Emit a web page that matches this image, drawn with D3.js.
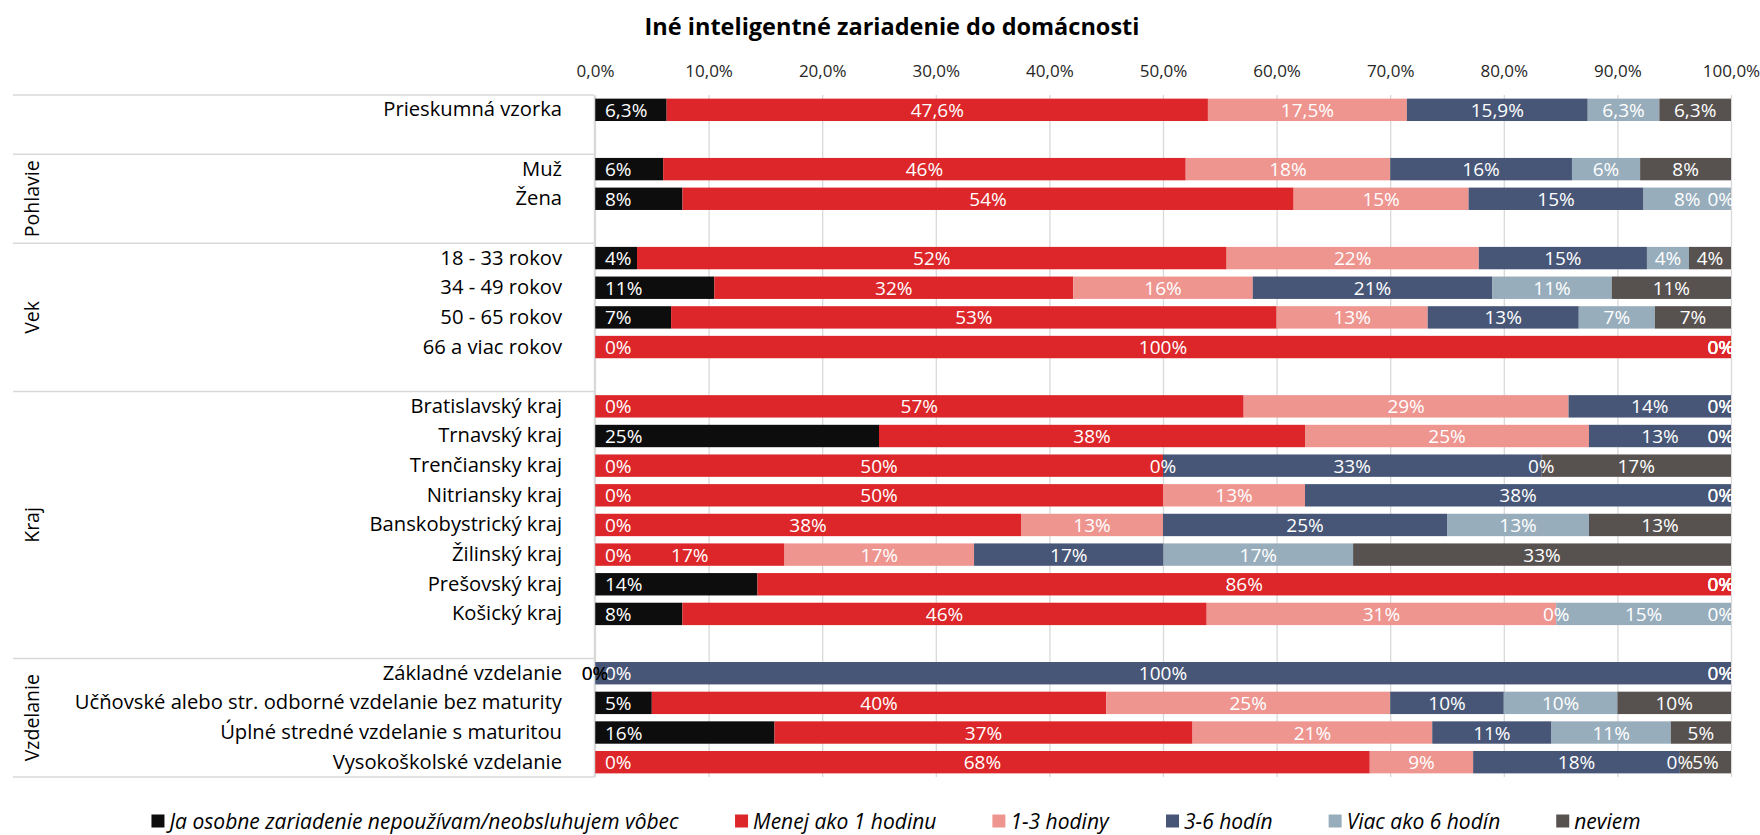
<!DOCTYPE html>
<html>
<head>
<meta charset="utf-8">
<script src="https://cdn.jsdelivr.net/npm/d3@7"></script>
<style>
  body { margin: 0; background: #fff; }
  svg text { font-family: "Open Sans", sans-serif; }
</style>
</head>
<body>
<svg id="chart" width="1760" height="835"></svg>
<script>
// data (percent of respondents)
const categories = ["Prieskumná vzorka", "", "Muž", "Žena", "",
  "18 - 33 rokov", "34 - 49 rokov", "50 - 65 rokov", "66 a viac rokov", "",
  "Bratislavský kraj", "Trnavský kraj", "Trenčiansky kraj", "Nitriansky kraj",
  "Banskobystrický kraj", "Žilinský kraj", "Prešovský kraj", "Košický kraj", "",
  "Základné vzdelanie", "Učňovské alebo str. odborné vzdelanie bez maturity",
  "Úplné stredné vzdelanie s maturitou", "Vysokoškolské vzdelanie"];
const groups = ["", "Pohlavie", "Vek", "Kraj", "Vzdelanie"];
const groupRows = [2, 3, 5, 9, 4];
const seriesNames = ["Ja osobne zariadenie nepoužívam/neobsluhujem vôbec", "Menej ako 1 hodinu",
  "1-3 hodiny", "3-6 hodín", "Viac ako 6 hodín", "neviem"];

const nepouzivam = [6.3, null, 6, 7.7, null, 3.7, 10.5, 6.7, 0, null, 0, 25, 0, 0, 0, 0, 14.3, 7.7, null, 0, 5, 15.8, 0];
const menej1 = [47.6, null, 46, 53.8, null, 51.9, 31.6, 53.3, 100, null, 57.1, 37.5, 50, 50, 37.5, 16.7, 85.7, 46.2, null, 0, 40, 36.8, 68.2];
const hodiny13 = [17.5, null, 18, 15.4, null, 22.2, 15.8, 13.3, 0, null, 28.6, 25, 0, 12.5, 12.5, 16.7, 0, 30.8, null, 0, 25, 21.1, 9.1];
const hodin36 = [15.9, null, 16, 15.4, null, 14.8, 21.1, 13.3, 0, null, 14.3, 12.5, 33.3, 37.5, 25, 16.7, 0, 0, null, 100, 10, 10.5, 18.2];
const viac6 = [6.3, null, 6, 7.7, null, 3.7, 10.5, 6.7, 0, null, 0, 0, 0, 0, 12.5, 16.7, 0, 15.4, null, 0, 10, 10.5, 0];
const neviem = [6.3, null, 8, 0, null, 3.7, 10.5, 6.7, 0, null, 0, 0, 16.7, 0, 12.5, 33.3, 0, 0, null, 0, 10, 5.3, 4.5];
const oneDecimalRows = ["Prieskumná vzorka"];
const tickValues = [0, 10, 20, 30, 40, 50, 60, 70, 80, 90, 100];

const colors = ["#0d0d0d", "#dc2629", "#ee9590", "#475677", "#97adbc", "#57524f"];

const width = 1760, height = 835;
const margin = {top: 95, left: 595, right: 29, bottom: 58};
const plotRight = width - margin.right;
const plotBottom = height - margin.bottom;

const sk = d3.formatLocale({decimal: ",", thousands: " ", grouping: [3], currency: ["", " €"]});

const allSeries = [nepouzivam, menej1, hodiny13, hodin36, viac6, neviem];
const rows = categories.map((c, i) => ({i: i, name: c, v: allSeries.map(s => s[i])}))
  .filter(d => d.v[0] !== null);

const stack = d3.stack()
  .keys(d3.range(seriesNames.length))
  .value((d, k) => d.v[k])
  .offset(d3.stackOffsetExpand);
const layers = stack(rows);

const x = d3.scaleLinear().domain([0, 1]).range([margin.left, plotRight]);
const y = d3.scaleBand()
  .domain(d3.range(categories.length))
  .range([margin.top, plotBottom])
  .paddingInner(0.245)
  .paddingOuter(0.1225);

const svg = d3.select('#chart');

// title
svg.append('text')
  .attr('x', 892).attr('y', 26)
  .attr('text-anchor', 'middle')
  .attr('dominant-baseline', 'central')
  .style('font-size', '23.5px').style('font-weight', 'bold')
  .text('Iné inteligentné zariadenie do domácnosti');

// gridlines
svg.append('g')
  .attr('transform', `translate(0, ${margin.top})`)
  .call(d3.axisBottom(x).tickValues(tickValues.map(t => t / 100)).tickSize(plotBottom - margin.top).tickFormat(''))
  .call(g => g.select('.domain').remove())
  .call(g => g.selectAll('line').attr('stroke', '#d9d9d9').attr('stroke-width', 1.3));

// percent axis on top
svg.append('g')
  .attr('transform', `translate(0, ${margin.top})`)
  .call(d3.axisTop(x).tickValues(tickValues.map(t => t / 100)).tickSize(0).tickPadding(18).tickFormat(sk.format('.1%')))
  .call(g => g.select('.domain').remove())
  .call(g => g.selectAll('text').style('font-size', '17px').attr('fill', '#262626'));

// group separators
const bounds = [0, ...d3.cumsum(groupRows)];
const step = y.step();
svg.append('g').selectAll('line')
  .data(bounds)
  .join('line')
  .attr('x1', 13).attr('x2', margin.left - 1)
  .attr('y1', k => margin.top + k * step)
  .attr('y2', k => margin.top + k * step)
  .attr('stroke', '#d9d9d9').attr('stroke-width', 1.5);

// group names
svg.append('g').selectAll('text')
  .data(groups)
  .join('text')
  .attr('transform', (g, i) => `translate(31, ${margin.top + (bounds[i] + bounds[i + 1]) / 2 * step}) rotate(-90)`)
  .attr('text-anchor', 'middle')
  .attr('dominant-baseline', 'central')
  .style('font-size', '19.5px')
  .text(g => g);

// bars
const layerG = svg.append('g').selectAll('g')
  .data(layers)
  .join('g')
  .attr('fill', (l, k) => colors[k]);

layerG.selectAll('rect')
  .data(l => l)
  .join('rect')
  .attr('x', d => x(d[0]))
  .attr('width', d => x(d[1]) - x(d[0]))
  .attr('y', d => y(d.data.i))
  .attr('height', y.bandwidth());

// category axis
svg.append('g')
  .attr('transform', `translate(${margin.left - 1}, 0)`)
  .call(d3.axisLeft(y).tickSize(0).tickPadding(32).tickFormat(i => categories[i]))
  .call(g => g.select('.domain').attr('stroke', '#d9d9d9').attr('stroke-width', 1.5))
  .call(g => g.selectAll('text').style('font-size', '20.2px').attr('fill', '#000'));

// data labels
const labelG = svg.append('g').style('font-size', '19px');
layers.forEach((layer, k) => {
  layer.forEach(d => {
    const val = d.data.v[k];
    const fmt = oneDecimalRows.includes(d.data.name) ? '.1f' : '.0f';
    const t = labelG.append('text')
      .attr('y', y(d.data.i) + y.bandwidth() / 2)
      .attr('dominant-baseline', 'central')
      .attr('fill', '#fff')
      .text(sk.format(fmt)(val) + '%');
    if (k === 0) {
      t.attr('x', x(d[0]) + 10).attr('text-anchor', 'start');
    } else {
      const w = t.node().getComputedTextLength();
      let cx = (x(d[0]) + x(d[1])) / 2;
      if (cx + w / 2 > plotRight + 3) cx = plotRight + 3 - w / 2;
      t.attr('x', cx).attr('text-anchor', 'middle');
      if (cx <= x(0)) t.attr('fill', '#000');
    }
  });
});

// legend
const legend = svg.append('g').attr('transform', `translate(0, ${height - 14})`);
const items = legend.selectAll('g')
  .data(seriesNames)
  .join('g');
items.append('rect')
  .attr('width', 13).attr('height', 13).attr('y', -6.5)
  .attr('fill', (s, k) => colors[k]);
items.append('text')
  .attr('x', 18)
  .attr('dominant-baseline', 'central')
  .style('font-size', '21px').style('font-style', 'italic')
  .text(s => s);
const gap = 56;
let widths = [];
items.each(function() { widths.push(this.getBBox().width); });
const total = d3.sum(widths) + gap * (widths.length - 1);
let cursor = 896 - total / 2;
items.attr('transform', (s, k) => {
  const tx = cursor;
  cursor += widths[k] + gap;
  return `translate(${tx}, 0)`;
});
</script>
</body>
</html>
